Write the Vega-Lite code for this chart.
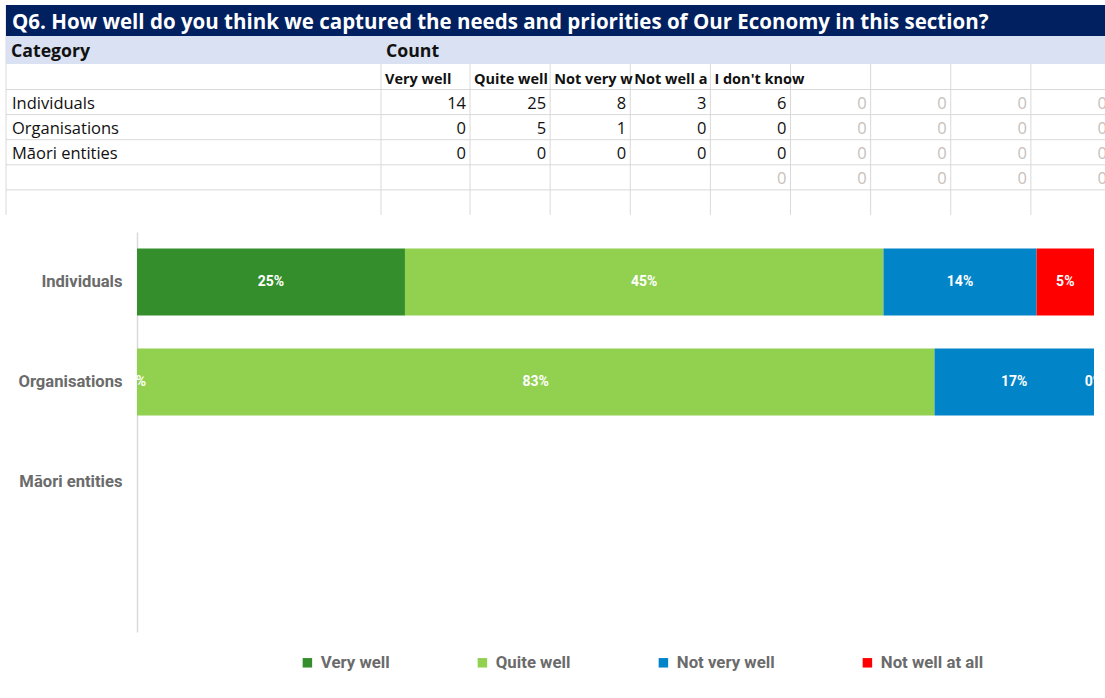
{
  "$schema": "https://vega.github.io/schema/vega-lite/v6.json",
  "width": 1105,
  "height": 698,
  "autosize": {"type": "fit", "contains": "padding"},
  "padding": 0,
  "background": "white",
  "config": {"view": {"stroke": null}},
  "datasets": {
    "grid": [
      {"c0": 0, "c1": 0, "r0": 0, "r1": 8}, {"c0": 1, "c1": 1, "r0": 0, "r1": 8},
      {"c0": 2, "c1": 2, "r0": 0, "r1": 8}, {"c0": 3, "c1": 3, "r0": 0, "r1": 8},
      {"c0": 4, "c1": 4, "r0": 0, "r1": 8}, {"c0": 5, "c1": 5, "r0": 0, "r1": 8},
      {"c0": 6, "c1": 6, "r0": 0, "r1": 8}, {"c0": 7, "c1": 7, "r0": 0, "r1": 8},
      {"c0": 8, "c1": 8, "r0": 0, "r1": 8}, {"c0": 9, "c1": 9, "r0": 0, "r1": 8},
      {"c0": 0, "c1": 10, "r0": 3, "r1": 3}, {"c0": 0, "c1": 10, "r0": 4, "r1": 4},
      {"c0": 0, "c1": 10, "r0": 5, "r1": 5}, {"c0": 0, "c1": 10, "r0": 6, "r1": 6},
      {"c0": 0, "c1": 10, "r0": 7, "r1": 7}
    ],
    "bands": [
      {"band": "title", "c0": 0, "c1": 10, "r0": 0, "r1": 1},
      {"band": "section", "c0": 0, "c1": 10, "r0": 1, "r1": 2}
    ],
    "cells": [
      {"kind": "title", "text": "Q6. How well do you think we captured the needs and priorities of Our Economy in this section?", "c": 0, "r": 1},
      {"kind": "section", "text": "Category", "c": 0, "r": 2},
      {"kind": "section", "text": "Count", "c": 1, "r": 2},
      {"kind": "header", "text": "Very well", "c": 1, "r": 3},
      {"kind": "header", "text": "Quite well", "c": 2, "r": 3},
      {"kind": "header", "text": "Not very well", "c": 3, "r": 3},
      {"kind": "header", "text": "Not well at all", "c": 4, "r": 3},
      {"kind": "header", "text": "I don't know", "c": 5, "r": 3},
      {"kind": "label", "text": "Individuals", "c": 0, "r": 4},
      {"kind": "label", "text": "Organisations", "c": 0, "r": 5},
      {"kind": "label", "text": "Māori entities", "c": 0, "r": 6},
      {"kind": "count", "text": "14", "c": 2, "r": 4},
      {"kind": "count", "text": "25", "c": 3, "r": 4},
      {"kind": "count", "text": "8", "c": 4, "r": 4},
      {"kind": "count", "text": "3", "c": 5, "r": 4},
      {"kind": "count", "text": "6", "c": 6, "r": 4},
      {"kind": "count", "text": "0", "c": 2, "r": 5},
      {"kind": "count", "text": "5", "c": 3, "r": 5},
      {"kind": "count", "text": "1", "c": 4, "r": 5},
      {"kind": "count", "text": "0", "c": 5, "r": 5},
      {"kind": "count", "text": "0", "c": 6, "r": 5},
      {"kind": "count", "text": "0", "c": 2, "r": 6},
      {"kind": "count", "text": "0", "c": 3, "r": 6},
      {"kind": "count", "text": "0", "c": 4, "r": 6},
      {"kind": "count", "text": "0", "c": 5, "r": 6},
      {"kind": "count", "text": "0", "c": 6, "r": 6},
      {"kind": "blank", "text": "0", "c": 7, "r": 4}, {"kind": "blank", "text": "0", "c": 8, "r": 4},
      {"kind": "blank", "text": "0", "c": 9, "r": 4}, {"kind": "blank", "text": "0", "c": 10, "r": 4},
      {"kind": "blank", "text": "0", "c": 7, "r": 5}, {"kind": "blank", "text": "0", "c": 8, "r": 5},
      {"kind": "blank", "text": "0", "c": 9, "r": 5}, {"kind": "blank", "text": "0", "c": 10, "r": 5},
      {"kind": "blank", "text": "0", "c": 7, "r": 6}, {"kind": "blank", "text": "0", "c": 8, "r": 6},
      {"kind": "blank", "text": "0", "c": 9, "r": 6}, {"kind": "blank", "text": "0", "c": 10, "r": 6},
      {"kind": "blank", "text": "0", "c": 6, "r": 7}, {"kind": "blank", "text": "0", "c": 7, "r": 7},
      {"kind": "blank", "text": "0", "c": 8, "r": 7}, {"kind": "blank", "text": "0", "c": 9, "r": 7},
      {"kind": "blank", "text": "0", "c": 10, "r": 7}
    ],
    "survey": [
      {"category": "Individuals", "response": "Very well", "level": 1, "count": 14, "pct": 0.25},
      {"category": "Individuals", "response": "Quite well", "level": 2, "count": 25, "pct": 0.45},
      {"category": "Individuals", "response": "Not very well", "level": 3, "count": 8, "pct": 0.14},
      {"category": "Individuals", "response": "Not well at all", "level": 4, "count": 3, "pct": 0.05},
      {"category": "Organisations", "response": "Very well", "level": 1, "count": 0, "pct": 0},
      {"category": "Organisations", "response": "Quite well", "level": 2, "count": 5, "pct": 0.83},
      {"category": "Organisations", "response": "Not very well", "level": 3, "count": 1, "pct": 0.17},
      {"category": "Organisations", "response": "Not well at all", "level": 4, "count": 0, "pct": 0}
    ]
  },
  "layer": [
    {
      "layer": [
        {
          "data": {"name": "grid"},
          "mark": {"type": "rule", "color": "#d9d9d9", "strokeWidth": 1},
          "encoding": {
            "x": {"field": "c0", "type": "quantitative", "axis": null, "scale": {"domain": [0, 1, 2, 10], "range": [6, 381, 470, 1111], "nice": false, "zero": false}},
            "x2": {"field": "c1"},
            "y": {"field": "r0", "type": "quantitative", "axis": null, "scale": {"domain": [0, 1, 2, 3, 8], "range": [5, 36, 64, 89.5, 215], "nice": false, "zero": false}},
            "y2": {"field": "r1"}
          }
        },
        {
          "data": {"name": "bands"},
          "transform": [{"filter": "datum.band == 'title'"}],
          "mark": {"type": "rect", "color": "#002060"},
          "encoding": {
            "x": {"field": "c0", "type": "quantitative", "axis": null},
            "x2": {"field": "c1"},
            "y": {"field": "r0", "type": "quantitative", "axis": null},
            "y2": {"field": "r1"}
          }
        },
        {
          "data": {"name": "bands"},
          "transform": [{"filter": "datum.band == 'section'"}],
          "mark": {"type": "rect", "color": "#D9E1F2"},
          "encoding": {
            "x": {"field": "c0", "type": "quantitative", "axis": null},
            "x2": {"field": "c1"},
            "y": {"field": "r0", "type": "quantitative", "axis": null},
            "y2": {"field": "r1"}
          }
        },
        {
          "data": {"name": "cells"},
          "transform": [{"filter": "datum.kind == 'title'"}],
          "mark": {"type": "text", "align": "left", "baseline": "alphabetic", "dx": 6, "dy": -7, "color": "white", "font": "Open Sans", "fontWeight": "bold", "fontSize": 20.5},
          "encoding": {
            "x": {"field": "c", "type": "quantitative", "axis": null},
            "y": {"field": "r", "type": "quantitative", "axis": null},
            "text": {"field": "text"}
          }
        },
        {
          "data": {"name": "cells"},
          "transform": [{"filter": "datum.kind == 'section'"}],
          "mark": {"type": "text", "align": "left", "baseline": "alphabetic", "dx": 5, "dy": -7, "color": "#111111", "font": "Open Sans", "fontWeight": "bold", "fontSize": 17.7},
          "encoding": {
            "x": {"field": "c", "type": "quantitative", "axis": null},
            "y": {"field": "r", "type": "quantitative", "axis": null},
            "text": {"field": "text"}
          }
        },
        {
          "data": {"name": "cells"},
          "transform": [{"filter": "datum.kind == 'header' && datum.c < 5"}],
          "mark": {"type": "text", "align": "left", "baseline": "alphabetic", "dx": 4, "dy": -6, "color": "#111111", "font": "Open Sans", "fontWeight": "bold", "fontSize": 14.5, "limit": 79, "ellipsis": "\u200b"},
          "encoding": {
            "x": {"field": "c", "type": "quantitative", "axis": null},
            "y": {"field": "r", "type": "quantitative", "axis": null},
            "text": {"field": "text"}
          }
        },
        {
          "data": {"name": "cells"},
          "transform": [{"filter": "datum.kind == 'header' && datum.c >= 5"}],
          "mark": {"type": "text", "align": "left", "baseline": "alphabetic", "dx": 4, "dy": -6, "color": "#111111", "font": "Open Sans", "fontWeight": "bold", "fontSize": 14.5},
          "encoding": {
            "x": {"field": "c", "type": "quantitative", "axis": null},
            "y": {"field": "r", "type": "quantitative", "axis": null},
            "text": {"field": "text"}
          }
        },
        {
          "data": {"name": "cells"},
          "transform": [{"filter": "datum.kind == 'label'"}],
          "mark": {"type": "text", "align": "left", "baseline": "alphabetic", "dx": 6, "dy": -6, "color": "#111111", "font": "Open Sans", "fontSize": 16.5},
          "encoding": {
            "x": {"field": "c", "type": "quantitative", "axis": null},
            "y": {"field": "r", "type": "quantitative", "axis": null},
            "text": {"field": "text"}
          }
        },
        {
          "data": {"name": "cells"},
          "transform": [{"filter": "datum.kind == 'count'"}],
          "mark": {"type": "text", "align": "right", "baseline": "alphabetic", "dx": -4, "dy": -6, "color": "#111111", "font": "Open Sans", "fontSize": 16.5},
          "encoding": {
            "x": {"field": "c", "type": "quantitative", "axis": null},
            "y": {"field": "r", "type": "quantitative", "axis": null},
            "text": {"field": "text"}
          }
        },
        {
          "data": {"name": "cells"},
          "transform": [{"filter": "datum.kind == 'blank'"}],
          "mark": {"type": "text", "align": "right", "baseline": "alphabetic", "dx": -4, "dy": -6, "color": "#c8c0bc", "font": "Open Sans", "fontSize": 16.5},
          "encoding": {
            "x": {"field": "c", "type": "quantitative", "axis": null},
            "y": {"field": "r", "type": "quantitative", "axis": null},
            "text": {"field": "text"}
          }
        }
      ]
    },
    {
      "data": {"name": "survey"},
      "layer": [
        {
          "mark": {"type": "bar"},
          "encoding": {
            "x": {"field": "count", "type": "quantitative", "stack": "normalize", "axis": null, "scale": {"range": [137, 1094], "domain": [0, 1], "nice": false}},
            "y": {
              "field": "category", "type": "nominal",
              "scale": {"domain": ["Individuals", "Organisations", "Māori entities", " "], "range": [232, 632], "paddingInner": 0.33, "paddingOuter": 0.165},
              "axis": {"orient": "left", "offset": -137, "title": null, "ticks": false, "labelPadding": 15, "labelFont": "Roboto", "labelFontSize": 16.6, "labelFontWeight": "bold", "labelColor": "#6b6b6b", "domainColor": "#d9d9d9", "domainWidth": 1.5, "grid": false}
            },
            "order": {"field": "level", "type": "quantitative"},
            "color": {
              "field": "response", "type": "nominal",
              "scale": {"domain": ["Very well", "Quite well", "Not very well", "Not well at all"], "range": ["#348E2C", "#92D050", "#0284C8", "#FF0000"]},
              "legend": {"orient": "none", "legendX": 299, "legendY": 654, "direction": "horizontal", "title": null, "symbolType": "square", "symbolSize": 90, "symbolStrokeWidth": 0, "labelFont": "Roboto", "labelFontSize": 16.8, "labelFontWeight": "bold", "labelColor": "#6b6b6b", "columnPadding": 84, "labelOffset": 5}
            }
          }
        },
        {
          "mark": {"type": "text", "color": "white", "font": "Roboto", "fontWeight": "bold", "fontSize": 14, "baseline": "middle"},
          "encoding": {
            "x": {"field": "count", "type": "quantitative", "stack": "normalize", "bandPosition": 0.5, "axis": null},
            "y": {"field": "category", "type": "nominal"},
            "detail": {"field": "response"},
            "order": {"field": "level", "type": "quantitative"},
            "text": {"field": "pct", "type": "quantitative", "format": ".0%"}
          }
        }
      ]
    }
  ],
  "resolve": {"scale": {"x": "independent", "y": "independent"}}
}
